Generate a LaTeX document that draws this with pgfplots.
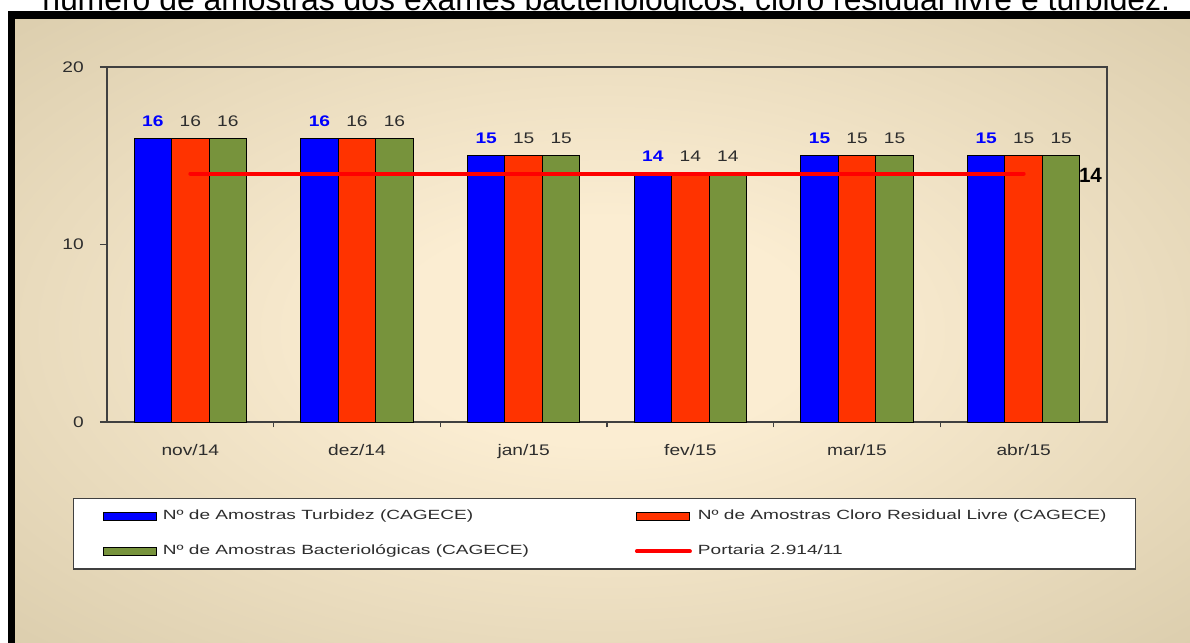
\documentclass[border=0pt]{standalone}
\usepackage{fontspec}
\setmainfont{Liberation Sans}
\newfontfamily\tickfont{Liberation Sans}[FakeStretch=1.25]
\newfontfamily\legfont{Liberation Sans}[FakeStretch=1.43]
\newfontfamily\titlefont{Liberation Sans}
\usepackage{pgfplots}
\pgfplotsset{compat=1.18}
\definecolor{bgin}{RGB}{251,237,210}
\definecolor{bgout}{RGB}{209,195,161}
\definecolor{barblue}{RGB}{0,0,255}
\definecolor{barred}{RGB}{255,51,0}
\definecolor{bargreen}{RGB}{119,147,60}
\definecolor{axgray}{RGB}{64,64,64}
\definecolor{txtgray}{RGB}{45,45,45}
\pgfdeclareradialshading{bgshade}{\pgfpoint{0bp}{0bp}}{color(0bp)=(bgin); color(9bp)=(bgin); color(45bp)=(bgout); color(72bp)=(bgout)}
\pgfplotsset{
  barleg/.style={legend image code/.code={\draw[##1] (0pt,-3pt) rectangle (39.75pt,3pt);}},
  lineleg/.style={legend image code/.code={\draw[##1] (0pt,0pt) -- (39.75pt,0pt);}},
}
\begin{document}
\begin{tikzpicture}
\useasboundingbox (0pt,0pt) rectangle (892.5pt,-482.25pt);
\clip (0pt,0pt) rectangle (892.5pt,-482.25pt);
\begin{scope}[x=0.75pt,y=-0.75pt]
\fill[white] (0,0) rectangle (1190,643);
\shade[shading=bgshade] (15,19) rectangle (1190,643);
\fill[black] (8,11) rectangle (1190,19);
\fill[black] (8,11) rectangle (15,643);
\node[anchor=base west, inner sep=0pt] at (42,10) {\resizebox{846pt}{!}{\titlefont número de amostras dos exames bacteriológicos, cloro residual livre e turbidez.}};
\end{scope}
\begin{axis}[
  at={(80.25pt,-316.5pt)}, anchor=south west,
  scale only axis, width=750pt, height=266.25pt,
  xmin=-0.5, xmax=5.5, ymin=0, ymax=20,
  axis line style={draw=axgray, line width=1.1pt},
  xtick={0,...,5},
  xticklabels={nov/14,dez/14,jan/15,fev/15,mar/15,abr/15},
  minor xtick={0.5,1.5,2.5,3.5,4.5},
  ytick={0,10,20},
  tick align=outside, tick pos=left,
  major x tick style={draw=none},
  minor x tick style={draw=axgray, line width=0.9pt},
  major y tick style={draw=axgray, line width=0.9pt},
  minor tick length=4pt, major tick length=5.25pt,
  /pgf/number format/assume math mode=true,
  ticklabel style={font=\tickfont\fontsize{11.5}{13}\selectfont, text=txtgray},
  xticklabel style={inner sep=0pt, yshift=-11pt},
  yticklabel style={inner sep=0pt, xshift=-12pt},
  ybar, bar width=0.225,
  nodes near coords,
  every node near coord/.append style={font=\tickfont\fontsize{11.5}{13}\selectfont, text=txtgray, anchor=south, inner sep=0pt, yshift=8.5pt},
  legend columns=2,
  legend cell align=left,
  legend style={at={(-0.034,-0.214)}, anchor=north west, draw=axgray, line width=0.9pt, fill=white,
    font=\legfont\fontsize{10}{12}\selectfont, text=txtgray,
    inner xsep=22pt, inner ysep=8.5pt,
    nodes={inner sep=0pt, text height=7.5pt, text depth=2pt},
    /tikz/every odd column/.append style={column sep=4.5pt},
    row sep=16.75pt},
]
\addplot[fill=barblue, draw=black, line width=0.75pt, bar shift=-0.225, barleg,
  every node near coord/.append style={text=barblue, font=\tickfont\bfseries\fontsize{11.5}{13}\selectfont}]
  coordinates {(0,16) (1,16) (2,15) (3,14) (4,15) (5,15)};
\addlegendentry{\makebox[354pt][l]{Nº de Amostras Turbidez (CAGECE)}}
\addplot[fill=barred, draw=black, line width=0.75pt, bar shift=0, barleg]
  coordinates {(0,16) (1,16) (2,15) (3,14) (4,15) (5,15)};
\addlegendentry{Nº de Amostras Cloro Residual Livre (CAGECE)}
\addplot[fill=bargreen, draw=black, line width=0.75pt, bar shift=0.225, barleg]
  coordinates {(0,16) (1,16) (2,15) (3,14) (4,15) (5,15)};
\addlegendentry{\makebox[354pt][l]{Nº de Amostras Bacteriológicas (CAGECE)}}
\addplot[sharp plot, red, line width=3pt, line cap=round, nodes near coords={}, lineleg]
  coordinates {(0,14) (1,14) (2,14) (3,14) (4,14) (5,14)}
  node[pos=1, anchor=west, xshift=40pt, yshift=-1.5pt, inner sep=0pt, text=black, font=\bfseries\fontsize{15.5}{17}\selectfont] {14};
\addlegendentry{Portaria 2.914/11}
\end{axis}
\end{tikzpicture}
\end{document}
